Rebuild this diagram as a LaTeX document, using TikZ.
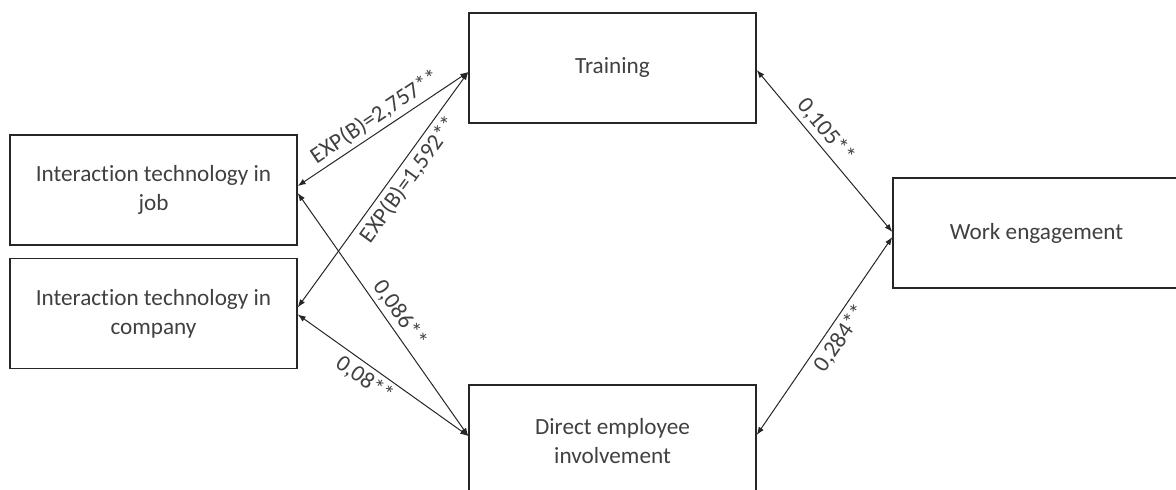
\documentclass[tikz,border=0pt]{standalone}
\usepackage{fontspec}
\setmainfont{Carlito}[Ligatures=NoCommon]
\usetikzlibrary{arrows.meta, positioning}
\definecolor{txtgray}{HTML}{404040}
\definecolor{linegray}{HTML}{262626}

\begin{document}
\begin{tikzpicture}[
  x=0.5pt, y=-0.5pt,
  vbox/.style={rectangle, draw=linegray, line width=0.7pt, minimum width=143.5pt,
               minimum height=55pt, align=center, text=txtgray, inner sep=0pt,
               font=\fontsize{11.6}{14.5}\selectfont},
  arr/.style={{Latex[length=4pt,width=3pt]}-{Latex[length=4pt,width=3pt]},
              line width=0.5pt, draw=linegray},
  lbl/.style={sloped, text=txtgray, inner sep=2pt, font=\fontsize{11.6}{13}\selectfont},
]
  \clip (0,0) rectangle (1176,489);

  \node[vbox] (job) at (153.5,190) {Interaction technology in\\job};
  \node[vbox, below=6pt of job] (company) {Interaction technology in\\company};
  \node[vbox] (training) at (612.5,68) {Training};
  \node[vbox, minimum height=56pt] (direct) at (612.5,441) {Direct employee\\involvement};
  \node[vbox] (work) at (1036.5,233) {Work engagement};

  % end points on the box sides
  \coordinate (tw)  at ([yshift=-2pt]training.west);
  \coordinate (te)  at ([yshift=-1pt]training.east);
  \coordinate (jw1) at ([yshift=2pt]job.east);
  \coordinate (jw2) at ([yshift=-1.5pt]job.east);
  \coordinate (cw1) at ([yshift=3pt]company.east);
  \coordinate (cw2) at ([yshift=-0.5pt]company.east);
  \coordinate (dw)  at ([yshift=2.5pt]direct.west);
  \coordinate (de)  at ([yshift=3pt]direct.east);
  \coordinate (ww1) at ([yshift=0.5pt]work.west);
  \coordinate (ww2) at ([yshift=-2pt]work.west);

  \draw[arr] (jw1) -- (tw) node[lbl, above, pos=0.5] {EXP(B)=2,757**};
  \draw[arr] (cw1) -- (tw) node[lbl, below, pos=0.58] {EXP(B)=1,592**};
  \draw[arr] (jw2) -- (dw) node[lbl, above, pos=0.53] {0,086**};
  \draw[arr] (cw2) -- (dw) node[lbl, below, pos=0.44] {0,08**};
  \draw[arr] (te) -- (ww1) node[lbl, above, pos=0.43] {0,105**};
  \draw[arr] (de) -- (ww2) node[lbl, below, pos=0.53] {0,284**};
\end{tikzpicture}
\end{document}
